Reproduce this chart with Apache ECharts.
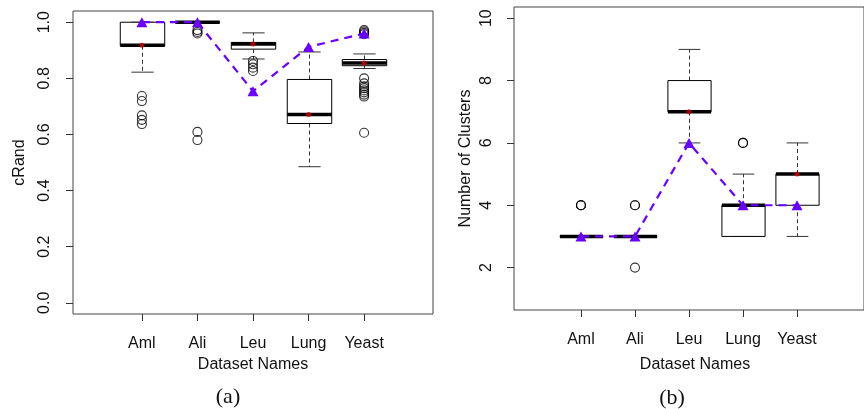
<!DOCTYPE html>
<html>
<head>
<meta charset="utf-8">
<script src="https://cdn.jsdelivr.net/npm/echarts@6/dist/echarts.min.js"></script>
<style>
  html, body { margin: 0; padding: 0; background: #fff; }
  #main { width: 864px; height: 409px; }
</style>
</head>
<body>
<div id="main"></div>
<script>
var categories = ["Aml", "Ali", "Leu", "Lung", "Yeast"];
var catPos = [1, 2, 3, 4, 5];

// (a) cRand: [lower whisker, Q1, median, Q3, upper whisker]
var randBoxes = [
  [0.822, 0.916, 0.918, 1.0, 1.0],
  [1.0, 1.0, 1.0, 1.0, 1.0],
  [0.869, 0.904, 0.922, 0.928, 0.962],
  [0.485, 0.639, 0.671, 0.796, 0.894],
  [0.835, 0.845, 0.855, 0.867, 0.887]
];
var randOutliers = [
  [0.737, 0.719, 0.668, 0.652, 0.637],
  [0.972, 0.965, 0.960, 0.609, 0.580],
  [0.862, 0.850, 0.838, 0.826],
  [],
  [0.972, 0.967, 0.962, 0.957, 0.800, 0.782, 0.772, 0.765, 0.757, 0.750, 0.742, 0.735, 0.606]
];
var randBest = [1.0, 1.0, 0.754, 0.912, 0.960];
var randTicks = [0, 0.2, 0.4, 0.6, 0.8, 1.0];

// (b) number of clusters
var clusBoxes = [
  [3, 3, 3, 3, 3],
  [3, 3, 3, 3, 3],
  [6, 7, 7, 8, 9],
  [3, 3, 4, 4, 5],
  [3, 4, 5, 5, 6]
];
var clusOutliers = [
  [4, 4, 4],
  [4, 4, 2],
  [],
  [6, 6],
  []
];
var clusBest = [3, 3, 6, 4, 4];
var clusTicks = [2, 4, 6, 8, 10];

var FONT = "Liberation Sans, Arial, sans-serif";
var PURPLE = "#6a00ff";

function renderBox(params, api) {
  var x = api.value(0);
  var lo = api.coord([x, api.value(1)]);
  var q1 = api.coord([x, api.value(2)]);
  var md = api.coord([x, api.value(3)]);
  var q3 = api.coord([x, api.value(4)]);
  var hi = api.coord([x, api.value(5)]);
  var bw = api.size([0.8, 0])[0];
  var cw = bw / 2;
  var cx = Math.round(lo[0]) + 0.5;
  var dash = { stroke: "#333", lineWidth: 1, lineDash: [4, 3] };
  var solid = { stroke: "#333", lineWidth: 1 };
  return {
    type: "group",
    children: [
      { type: "line", shape: { x1: cx, y1: q3[1], x2: cx, y2: hi[1] }, style: dash },
      { type: "line", shape: { x1: cx, y1: q1[1], x2: cx, y2: lo[1] }, style: dash },
      { type: "line", shape: { x1: cx - cw / 2, y1: hi[1], x2: cx + cw / 2, y2: hi[1] }, style: solid },
      { type: "line", shape: { x1: cx - cw / 2, y1: lo[1], x2: cx + cw / 2, y2: lo[1] }, style: solid },
      { type: "rect", shape: { x: cx - bw / 2, y: q3[1], width: bw, height: q1[1] - q3[1] },
        style: { fill: "#fff", stroke: "#000", lineWidth: 1 } },
      { type: "line", shape: { x1: cx - bw / 2, y1: md[1], x2: cx + bw / 2, y2: md[1] },
        style: { stroke: "#000", lineWidth: 3.5 } }
    ]
  };
}

function panelSeries(idx, boxes, outliers, best) {
  var boxData = boxes.map(function (b, i) { return [catPos[i]].concat(b); });
  var outData = [];
  outliers.forEach(function (list, i) {
    list.forEach(function (v) { outData.push([catPos[i], v]); });
  });
  var medData = boxes.map(function (b, i) { return [catPos[i], b[2]]; });
  var bestData = best.map(function (v, i) { return [catPos[i], v]; });
  return [
    { type: "custom", xAxisIndex: idx, yAxisIndex: idx, renderItem: renderBox,
      data: boxData, encode: { x: 0, y: [1, 2, 3, 4, 5] }, z: 1 },
    { type: "scatter", xAxisIndex: idx, yAxisIndex: idx, data: outData, symbol: "circle",
      symbolSize: 9, itemStyle: { color: "rgba(0,0,0,0)", borderColor: "#000", borderWidth: 1.1 }, z: 2 },
    { type: "scatter", xAxisIndex: idx, yAxisIndex: idx, data: medData, symbol: "circle",
      symbolSize: 5, itemStyle: { color: "#d00000" }, z: 3 },
    { type: "line", xAxisIndex: idx, yAxisIndex: idx, data: bestData, symbol: "triangle",
      symbolSize: [11, 10], showSymbol: true, itemStyle: { color: PURPLE },
      lineStyle: { color: PURPLE, width: 2.2, type: [8, 6] }, z: 4 }
  ];
}

function xAxisFor(idx, gap, shift) {
  return {
    type: "value", gridIndex: idx, min: -0.24, max: 6.24,
    name: "Dataset Names", nameLocation: "middle", nameGap: gap,
    nameTextStyle: { fontFamily: FONT, fontSize: 16, color: "#111", padding: [0, 0, 0, shift] },
    axisLine: { show: false, onZero: false },
    axisTick: { show: true, inside: false, customValues: catPos, length: 7, lineStyle: { color: "#333" } },
    axisLabel: { show: true, customValues: catPos, margin: 22, fontFamily: FONT, fontSize: 16, color: "#111",
      formatter: function (v) { return categories[Math.round(v) - 1] || ""; } },
    splitLine: { show: false }
  };
}

function yAxisFor(idx, min, max, ticks, name, gap, margin, digits) {
  return {
    type: "value", gridIndex: idx, min: min, max: max,
    name: name, nameLocation: "middle", nameGap: gap,
    nameTextStyle: { fontFamily: FONT, fontSize: 16, color: "#111" },
    axisLine: { show: false, onZero: false },
    axisTick: { show: true, inside: false, customValues: ticks, length: 7, lineStyle: { color: "#333" } },
    axisLabel: { show: true, customValues: ticks, rotate: 90, margin: margin, fontFamily: FONT,
      fontSize: 16, color: "#111",
      formatter: function (v) { return v.toFixed(digits); } },
    splitLine: { show: false }
  };
}

var chart = echarts.init(document.getElementById("main"));
chart.setOption({
  animation: false,
  backgroundColor: "#fff",
  grid: [
    { left: 73, top: 11, width: 360, height: 303, show: true, borderColor: "#444", borderWidth: 1, backgroundColor: "transparent" },
    { left: 514, top: 7, width: 361, height: 303, show: true, borderColor: "#444", borderWidth: 1, backgroundColor: "transparent" }
  ],
  xAxis: [xAxisFor(0, 42, 0), xAxisFor(1, 47, 12)],
  yAxis: [
    yAxisFor(0, -0.04, 1.04, randTicks, "cRand", 45, 20, 1),
    yAxisFor(1, 0.64, 10.36, clusTicks, "Number of Clusters", 40, 19, 0)
  ],
  graphic: [
    { type: "text", x: 228, y: 397, style: { text: "(a)", font: "22px 'Liberation Serif', serif", fill: "#111",
      textAlign: "center", textVerticalAlign: "middle" } },
    { type: "text", x: 672, y: 398, style: { text: "(b)", font: "22px 'Liberation Serif', serif", fill: "#111",
      textAlign: "center", textVerticalAlign: "middle" } }
  ],
  series: panelSeries(0, randBoxes, randOutliers, randBest)
    .concat(panelSeries(1, clusBoxes, clusOutliers, clusBest))
});
</script>
</body>
</html>
